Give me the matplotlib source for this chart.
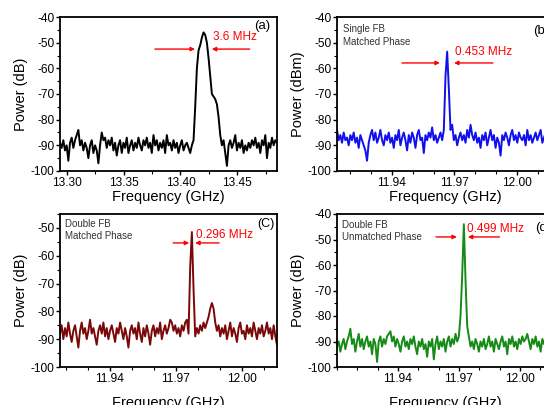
import numpy as np
import matplotlib
matplotlib.use('Agg')
import matplotlib.pyplot as plt
from matplotlib.ticker import MultipleLocator, FixedLocator

plt.rcParams['font.family'] = ['Liberation Sans', 'DejaVu Sans']
plt.rcParams['axes.unicode_minus'] = False

# (a) free running, 13.3 GHz band
power_a = [-89, -91, -88, -92, -90, -96, -89, -87, -91, -88,
           -86, -84, -90, -88, -92, -89, -91, -95, -90, -88,
           -93, -90, -92, -97, -90, -85, -88, -87, -91, -88,
           -90, -87, -92, -89, -94, -90, -88, -93, -89, -91,
           -87, -93, -90, -88, -92, -89, -91, -87, -90, -92,
           -88, -90, -87, -91, -89, -93, -86, -90, -88, -92,
           -89, -91, -88, -93, -86, -90, -89, -92, -88, -91,
           -89, -93, -90, -88, -92, -90, -89, -91, -93, -90,
           -88, -75, -60, -53, -51, -48, -46, -47, -50, -56,
           -63, -70, -71, -72, -74, -79, -86, -90, -88, -93,
           -98, -90, -88, -91, -89, -86, -92, -89, -91, -88,
           -93, -90, -92, -89, -91, -88, -90, -87, -91, -89,
           -93, -88, -90, -86, -95, -89, -91, -87, -90, -88, -89]

# (b) single FB, matched phase
power_b = [-84, -88, -86, -89, -85, -88, -87, -90, -86, -88,
           -85, -89, -87, -91, -86, -88, -90, -92, -96, -89,
           -86, -84, -88, -85, -89, -87, -84, -88, -90, -86,
           -88, -85, -89, -87, -91, -86, -88, -84, -90, -87,
           -85, -88, -92, -86, -89, -85, -87, -91, -86, -84,
           -88, -87, -93, -86, -88, -85, -87, -83, -88, -86,
           -89, -87, -85, -88, -84, -63, -53.5, -68, -84, -82,
           -88, -86, -90, -87, -85, -88, -86, -89, -84, -87,
           -82, -86, -88, -85, -89, -87, -91, -86, -88, -85,
           -90, -87, -84, -88, -86, -91, -87, -89, -94, -86,
           -88, -85, -87, -90, -86, -84, -88, -86, -89, -85,
           -87, -88, -86, -90, -84, -88, -86, -89, -87, -85,
           -88, -86, -84, -89, -87, -85, -88, -86, -90, -87, -86]

# (c) double FB, matched phase
power_c = [-88, -85, -90, -86, -89, -84, -88, -91, -87, -85,
           -89, -93, -87, -84, -88, -86, -90, -87, -83, -88,
           -86, -89, -92, -87, -85, -88, -84, -89, -86, -90,
           -87, -85, -88, -91, -86, -88, -84, -87, -90, -86,
           -89, -93, -87, -85, -88, -86, -90, -84, -88, -91,
           -86, -89, -85, -88, -92, -87, -85, -89, -86, -88,
           -84, -90, -87, -85, -88, -86, -83, -84, -87, -85,
           -88, -86, -89, -85, -87, -84, -83, -88, -64, -51.5,
           -72, -89, -86, -88, -85, -87, -84, -86, -84, -82,
           -79, -77, -79, -84, -87, -85, -89, -86, -88, -85,
           -90, -87, -84, -89, -86, -88, -91, -86, -84, -88,
           -87, -90, -85, -88, -86, -89, -84, -87, -90, -86,
           -88, -85, -89, -87, -84, -88, -86, -90, -85, -89, -92]

# (d) double FB, unmatched phase
power_d = [-92, -90, -94, -91, -89, -93, -90, -88, -85, -91,
           -89, -94, -90, -87, -92, -89, -93, -90, -88, -92,
           -90, -95, -89, -91, -98, -90, -88, -92, -89, -91,
           -88, -87, -86, -90, -88, -92, -89, -91, -94, -90,
           -88, -92, -90, -93, -89, -91, -88, -92, -95, -90,
           -92, -89, -93, -91, -96, -90, -92, -89, -97, -91,
           -88, -93, -90, -92, -89, -94, -90, -88, -92, -89,
           -91, -87, -90, -88, -80, -64, -44, -66, -84, -88,
           -92, -90, -93, -89, -91, -94, -90, -92, -89, -93,
           -91, -88, -92, -90, -94, -89, -91, -93, -90, -88,
           -92, -90, -95, -89, -91, -88, -92, -90, -93, -89,
           -91, -88, -90, -89, -87, -90, -93, -89, -91, -88,
           -92, -90, -94, -89, -91, -88, -92, -90, -89, -91, -90]

span_a = (13.294, 13.485)
span_b = (11.9136, 12.0178)
span_c = (11.9173, 12.0159)
span_d = (11.910, 12.0168)

ticks_a = [13.30, 13.35, 13.40, 13.45]
ticks_x = [11.94, 11.97, 12.00]

fig = plt.figure(figsize=(5.44, 4.05), dpi=100)

W, H = 544.0, 405.0


def make_axes(left, top, width, height):
    return fig.add_axes([left / W, (H - top - height) / H, width / W, height / H])


def style_panel(ax, span, power, color, ylim, xticks, xminor, ylabel, xpad):
    freq = np.linspace(span[0], span[1], len(power))
    ax.plot(freq, power, color=color, lw=1.4)
    ax.set_xlim(*span)
    ax.set_ylim(*ylim)
    ax.xaxis.set_major_locator(FixedLocator(xticks))
    ax.xaxis.set_major_formatter(plt.FormatStrFormatter('%.2f'))
    ax.xaxis.set_minor_locator(MultipleLocator(xminor))
    ax.yaxis.set_major_locator(MultipleLocator(10))
    ax.yaxis.set_minor_locator(MultipleLocator(5))
    ax.tick_params(which='major', direction='out', length=3, width=1, labelsize=8.6, pad=1)
    ax.tick_params(which='minor', direction='out', length=2, width=0.8)
    for s in ax.spines.values():
        s.set_linewidth(1.3)
    ax.set_ylabel(ylabel, fontsize=10.5, labelpad=2)
    ax.set_xlabel('Frequency (GHz)', fontsize=10.5, labelpad=xpad)


def width_marker(ax, x_left, x_right, x_lhead, x_rhead, y, label, tx, ty, fs=8.5):
    arrow = dict(arrowstyle='-|>', color='red', lw=1.0, mutation_scale=6, shrinkA=0, shrinkB=0)
    ax.annotate('', xy=(x_lhead, y), xytext=(x_left, y), arrowprops=arrow)
    ax.annotate('', xy=(x_rhead, y), xytext=(x_right, y), arrowprops=arrow)
    ax.text(tx, ty, label, color='red', fontsize=fs, ha='left', va='center')


note_color = '#333333'

# (a)
ax_a = make_axes(60, 17, 217, 154)
style_panel(ax_a, span_a, power_a, 'black', (-100, -40), ticks_a, 0.025, 'Power (dB)', 1)
width_marker(ax_a, 13.3775, 13.461, 13.4128, 13.4276, -52.5, '3.6 MHz', 13.4285, -47.8)
ax_a.text(0.894, 0.94, '(a)', transform=ax_a.transAxes, fontsize=9.5, ha='left', va='center')

# (b)
ax_b = make_axes(337, 17, 217, 154)
style_panel(ax_b, span_b, power_b, '#1010ee', (-100, -40), ticks_x, 0.01, 'Power (dBm)', 1)
width_marker(ax_b, 11.9448, 11.9885, 11.9630, 11.9698, -57.9, '0.453 MHz', 11.9702, -53.6)
ax_b.text(0.028, 0.922, 'Single FB', transform=ax_b.transAxes, fontsize=7, color=note_color, va='center')
ax_b.text(0.028, 0.838, 'Matched Phase', transform=ax_b.transAxes, fontsize=7, color=note_color, va='center')
ax_b.text(0.903, 0.909, '(b)', transform=ax_b.transAxes, fontsize=9.5, ha='left', va='center')

# (c)
ax_c = make_axes(60, 214, 217, 153)
style_panel(ax_c, span_c, power_c, '#7a0808', (-100, -45), ticks_x, 0.01, 'Power (dB)', 8)
width_marker(ax_c, 11.9687, 11.9896, 11.9760, 11.9787, -55.4, '0.296 MHz', 11.9791, -52.5)
ax_c.text(0.023, 0.935, 'Double FB', transform=ax_c.transAxes, fontsize=7, color=note_color, va='center')
ax_c.text(0.023, 0.856, 'Matched Phase', transform=ax_c.transAxes, fontsize=7, color=note_color, va='center')
ax_c.text(0.908, 0.935, '(C)', transform=ax_c.transAxes, fontsize=9, ha='left', va='center')

# (d)
ax_d = make_axes(337, 214, 217, 153)
style_panel(ax_d, span_d, power_d, '#168a16', (-100, -40), ticks_x, 0.01, 'Power (dB)', 8)
width_marker(ax_d, 11.9587, 11.990, 11.969, 11.9744, -49.0, '0.499 MHz', 11.974, -45.9)
ax_d.text(0.023, 0.928, 'Double FB', transform=ax_d.transAxes, fontsize=7, color=note_color, va='center')
ax_d.text(0.023, 0.85, 'Unmatched Phase', transform=ax_d.transAxes, fontsize=7, color=note_color, va='center')
ax_d.text(0.912, 0.908, '(d)', transform=ax_d.transAxes, fontsize=9.5, ha='left', va='center')

fig.savefig('out.png', dpi=100)
